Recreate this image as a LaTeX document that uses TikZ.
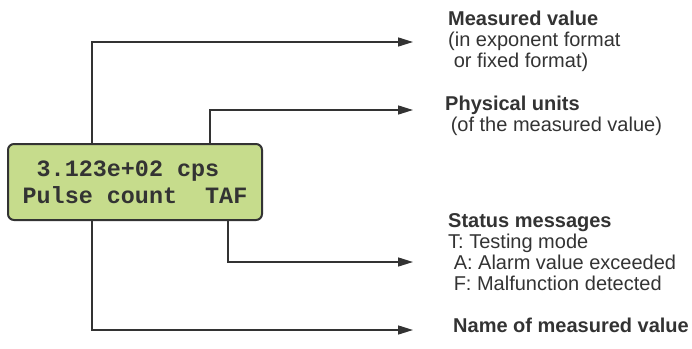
\documentclass[tikz,border=0pt]{standalone}
\usepackage{fontspec}
\setmainfont{Liberation Sans}
\setmonofont{Liberation Mono}
\usetikzlibrary{arrows.meta,calc}
\definecolor{lcdgreen}{HTML}{C6DC8C}
\definecolor{ink}{HTML}{333333}
\tikzset{
  lcdbox/.style={draw=ink, line width=2pt, rounded corners=6pt, fill=lcdgreen,
    minimum width=254pt, minimum height=76pt, inner sep=0pt,
    font=\ttfamily\bfseries\fontsize{23.4pt}{27pt}\selectfont, text=ink, align=left},
  conn/.style={draw=ink, line width=1.5pt, -{Triangle[length=15pt,width=9pt]}},
  caption/.style={anchor=north west, inner sep=0pt, align=left, text=ink,
    font=\fontsize{20pt}{21pt}\selectfont},
}
\begin{document}
\begin{tikzpicture}[x=1pt,y=-1pt]
  \useasboundingbox (0,0) rectangle (692,348);

  % LCD panel with its two display rows
  \node[lcdbox] (lcd) at (135,182) {\ 3.123e+02 cps\\Pulse count\ \ TAF};

  % arrow targets
  \coordinate (t1) at (413,42);
  \coordinate (t2) at (413,110);
  \coordinate (t3) at (413,262);
  \coordinate (t4) at (413,330);

  % columns where the leaders leave the panel
  \coordinate (c1) at (92,0);
  \coordinate (c2) at (210,0);
  \coordinate (c3) at (228,0);

  \draw[conn] (c1 |- lcd.north) |- (t1);
  \draw[conn] (c2 |- lcd.north) |- (t2);
  \draw[conn] (c3 |- lcd.south) |- (t3);
  \draw[conn] (c1 |- lcd.south) |- (t4);

  % descriptions
  \node[caption] (l1) at (448,11) {\textbf{Measured value}\\(in exponent format\\\ or fixed format)};
  \node[caption] (l2) at (445,96) {\textbf{Physical units}\\\ (of the measured value)};
  \node[caption] (l3) at (448,213) {\textbf{Status messages}\\T: Testing mode\\\ A: Alarm value exceeded\\\ F: Malfunction detected};
  \node[caption] (l4) at (453,318) {\textbf{Name of measured value}};
\end{tikzpicture}
\end{document}
